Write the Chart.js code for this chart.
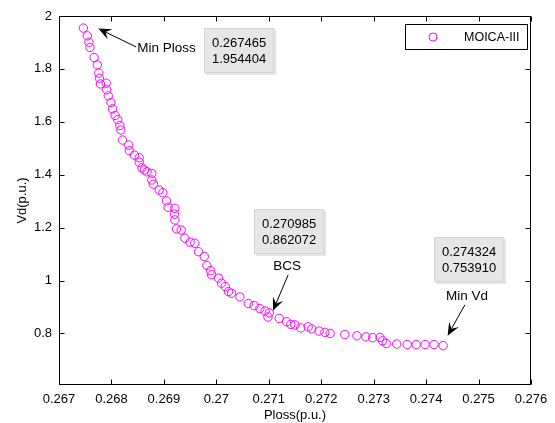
<!DOCTYPE html>
<html><head><meta charset="utf-8">
<script src="https://cdn.jsdelivr.net/npm/chart.js@4.4.0/dist/chart.umd.min.js"></script>
<style>html,body{margin:0;padding:0;background:#fff;}#wrap{width:555px;height:423px;}</style>
</head><body><div id="wrap"><canvas id="c" width="555" height="423"></canvas></div>
<script>
// ---- data ----
const ploss = [0.267465,0.26754,0.26757,0.26759,0.26767,0.26773,0.26776,0.26777,0.26779,0.26790,
  0.26791,0.26794,0.26799,0.26802,0.26807,0.26812,0.26816,0.26818,0.26821,0.26833,
  0.26834,0.26844,0.26853,0.26853,0.26858,0.26863,0.26868,0.26877,0.26877,0.26880,
  0.26891,0.26898,0.26905,0.26908,0.26921,0.26920,0.26921,0.26924,0.26933,0.26940,
  0.26950,0.26959,0.26966,0.26977,0.26982,0.26989,0.26991,0.27004,0.27010,0.27017,
  0.27023,0.27029,0.27045,0.27061,0.27072,0.27083,0.27093,0.270985,0.27101,0.27120,
  0.27134,0.27142,0.27150,0.27161,0.27175,0.27182,0.27196,0.27207,0.27217,0.27245,
  0.27268,0.27285,0.27298,0.27312,0.27317,0.27324,0.27344,0.27364,0.27381,0.27398,
  0.27415,0.274324];
const vd = [1.954404,1.925,1.901,1.881,1.843,1.815,1.784,1.765,1.743,1.746,
  1.721,1.698,1.673,1.649,1.624,1.608,1.586,1.569,1.531,1.512,
  1.491,1.474,1.464,1.447,1.426,1.418,1.411,1.405,1.380,1.364,
  1.342,1.332,1.301,1.277,1.273,1.251,1.229,1.195,1.191,1.160,
  1.145,1.141,1.109,1.091,1.057,1.037,1.022,1.009,0.990,0.977,
  0.958,0.952,0.938,0.913,0.905,0.894,0.885,0.862072,0.878,0.857,
  0.844,0.834,0.832,0.821,0.825,0.817,0.809,0.804,0.800,0.796,
  0.791,0.787,0.784,0.785,0.772,0.762,0.760,0.758,0.758,0.758,
  0.758,0.753910];
const seriesName = 'MOICA-III';
const xTickValues = [0.267,0.268,0.269,0.270,0.271,0.272,0.273,0.274,0.275,0.276];
const xTickLabels = ['0.267','0.268','0.269','0.27','0.271','0.272','0.273','0.274','0.275','0.276'];
const yTickValues = [0.8,1.0,1.2,1.4,1.6,1.8,2.0];
const yTickLabels = ['0.8','1','1.2','1.4','1.6','1.8','2'];
const xTitle = 'Ploss(p.u.)';
const yTitle = 'Vd(p.u.)';
// data tips: text lines and top-left anchor (data units)
const tipLines = [['0.267465','1.954404'],['0.270985','0.862072'],['0.274324','0.753910']];
const tipAnchorX = [0.26977,0.27072,0.27415];
const tipAnchorY = [1.954,1.271,1.165];
// arrow annotations (data units)
const arrowText = ['Min Ploss','BCS','Min Vd'];
const arrowTailX = [0.26847,0.27137,0.27474];
const arrowTailY = [1.883,1.0215,0.9083];
const arrowTipX = [0.26775,0.27108,0.27441];
const arrowTipY = [1.9525,0.8857,0.7913];
const arrowTextX = [0.26849,0.27135,0.27478];
const arrowTextY = [1.878,1.0555,0.9396];
const arrowTextAlign = ['left','center','center'];

const FONT = "'Liberation Sans', Arial, sans-serif";
const MAG = '#ff00ff';

function drawArrow(ctx, x1, y1, x2, y2){
  ctx.save();
  ctx.strokeStyle = '#000'; ctx.fillStyle = '#000'; ctx.lineWidth = 1;
  const a = Math.atan2(y2-y1, x2-x1);
  const L = 13, W = 5.5, N = 8;
  ctx.beginPath(); ctx.moveTo(x1,y1);
  ctx.lineTo(x2 - N*Math.cos(a), y2 - N*Math.sin(a)); ctx.stroke();
  ctx.beginPath();
  ctx.moveTo(x2,y2);
  ctx.lineTo(x2 - L*Math.cos(a) + W*Math.sin(a), y2 - L*Math.sin(a) - W*Math.cos(a));
  ctx.lineTo(x2 - N*Math.cos(a), y2 - N*Math.sin(a));
  ctx.lineTo(x2 - L*Math.cos(a) - W*Math.sin(a), y2 - L*Math.sin(a) + W*Math.cos(a));
  ctx.closePath(); ctx.fill();
  ctx.restore();
}

const decor = {
  id: 'decor',
  afterDraw(chart){
    const ctx = chart.ctx, xs = chart.scales.x, ys = chart.scales.y, ca = chart.chartArea;
    const L = Math.round(ca.left)+0.5, R = Math.round(ca.right)-0.5, T = Math.round(ca.top)+0.5, B = Math.round(ca.bottom)-0.5;
    ctx.save();
    // frame
    ctx.strokeStyle = '#000'; ctx.lineWidth = 1;
    ctx.strokeRect(L, T, R-L, B-T);
    // inward ticks
    const tl = 5;
    ctx.beginPath();
    xTickValues.forEach(v => {
      const p = Math.round(xs.getPixelForValue(v))+0.5;
      ctx.moveTo(p,B); ctx.lineTo(p,B-tl);
      ctx.moveTo(p,T); ctx.lineTo(p,T+tl);
    });
    yTickValues.forEach(v => {
      const p = Math.round(ys.getPixelForValue(v))+0.5;
      ctx.moveTo(L,p); ctx.lineTo(L+tl,p);
      ctx.moveTo(R,p); ctx.lineTo(R-tl,p);
    });
    ctx.stroke();

    // data tips
    ctx.font = '13px ' + FONT;
    ctx.textBaseline = 'middle';
    tipLines.forEach((lines,i) => {
      const x = Math.round(xs.getPixelForValue(tipAnchorX[i]));
      const y = Math.round(ys.getPixelForValue(tipAnchorY[i]));
      const w = Math.max(...lines.map(s => ctx.measureText(s).width)) + 16;
      const h = 45;
      ctx.fillStyle = 'rgba(0,0,0,0.10)';
      ctx.fillRect(x+2, y+2, w, h);
      ctx.fillStyle = '#e6e6e6';
      ctx.fillRect(x, y, w, h);
      ctx.strokeStyle = '#d4d4d4';
      ctx.strokeRect(x+0.5, y+0.5, w-1, h-1);
      ctx.fillStyle = '#000'; ctx.textAlign = 'left';
      lines.forEach((s,j) => ctx.fillText(s, x+8, y+15+j*16.5));
    });

    // arrows + labels
    arrowText.forEach((t,i) => {
      drawArrow(ctx, xs.getPixelForValue(arrowTailX[i]), ys.getPixelForValue(arrowTailY[i]),
                     xs.getPixelForValue(arrowTipX[i]), ys.getPixelForValue(arrowTipY[i]));
      ctx.font = '13.5px ' + FONT; ctx.fillStyle = '#000';
      ctx.textAlign = arrowTextAlign[i]; ctx.textBaseline = 'middle';
      ctx.fillText(t, xs.getPixelForValue(arrowTextX[i]), ys.getPixelForValue(arrowTextY[i]));
    });

    // legend (top right, inside axes)
    const lw = 122, lh = 25;
    const lx = Math.round(ca.right) - 4 - lw, ly = Math.round(ca.top) + 8;
    ctx.fillStyle = '#fff'; ctx.fillRect(lx, ly, lw, lh);
    ctx.strokeStyle = '#000'; ctx.lineWidth = 1;
    ctx.strokeRect(lx+0.5, ly+0.5, lw, lh);
    ctx.strokeStyle = MAG;
    ctx.beginPath(); ctx.arc(lx+28, ly+lh/2+0.5, 4, 0, Math.PI*2); ctx.stroke();
    ctx.fillStyle = '#000'; ctx.font = '12.5px ' + FONT; ctx.textAlign = 'left'; ctx.textBaseline = 'middle';
    ctx.fillText(seriesName, lx+59, ly+lh/2+1);
    ctx.restore();
  }
};

new Chart(document.getElementById('c'), {
  type: 'scatter',
  data: { datasets: [{
    label: seriesName,
    data: ploss.map((x,i) => ({x, y: vd[i]})),
    pointStyle: 'circle', pointRadius: 4.2, pointBorderWidth: 1,
    borderColor: MAG, backgroundColor: 'rgba(0,0,0,0)',
    pointBackgroundColor: 'rgba(0,0,0,0)', pointBorderColor: MAG
  }]},
  options: {
    responsive: false, animation: false, devicePixelRatio: 1,
    layout: { padding: { top: 16, right: 24, left: 0, bottom: 0 } },
    plugins: { legend: { display: false }, tooltip: { enabled: false } },
    scales: {
      x: {
        type: 'linear', min: 0.267, max: 0.276,
        afterBuildTicks: s => { s.ticks = xTickValues.map(v => ({ value: v })); },
        afterFit: s => { s.height = 38; },
        ticks: { autoSkip: false, maxRotation: 0, padding: 7, color: '#000',
          font: { family: FONT, size: 13 },
          callback: (v, i) => xTickLabels[i] },
        grid: { display: false, drawTicks: false }, border: { display: false },
        title: { display: true, text: xTitle, color: '#000', font: { family: FONT, size: 13 }, padding: { top: 0, bottom: 0 } }
      },
      y: {
        type: 'linear', min: 0.605, max: 2,
        afterBuildTicks: s => { s.ticks = yTickValues.map(v => ({ value: v })); },
        afterFit: s => { s.width = 59; },
        ticks: { autoSkip: false, padding: 7, color: '#000',
          font: { family: FONT, size: 13 },
          callback: (v, i) => yTickLabels[i] },
        grid: { display: false, drawTicks: false }, border: { display: false },
        title: { display: true, text: yTitle, color: '#000', font: { family: FONT, size: 13 }, padding: { top: 15, bottom: 0 } }
      }
    }
  },
  plugins: [decor]
});
</script></body></html>
